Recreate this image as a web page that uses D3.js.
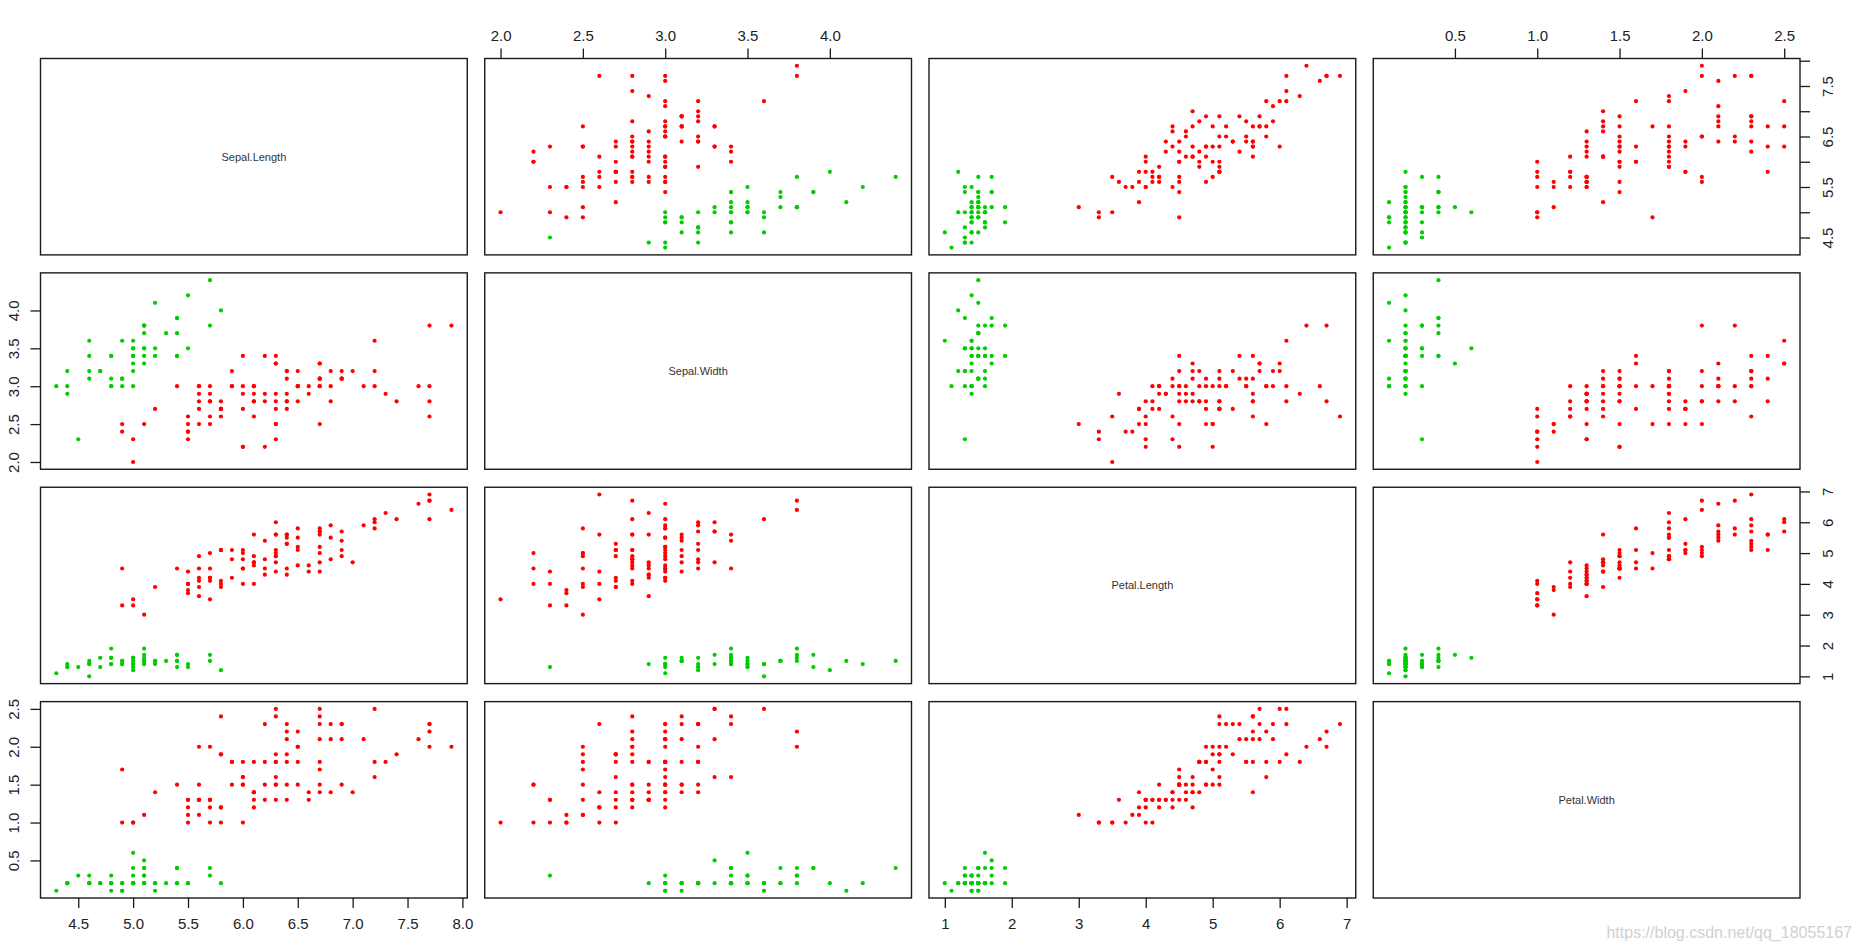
<!DOCTYPE html>
<html>
<head>
<meta charset="utf-8">
<script src="https://cdn.jsdelivr.net/npm/d3@7"></script>
<style>
  html, body { margin: 0; padding: 0; background: #ffffff; }
  svg { display: block; font-family: "Liberation Sans", Arial, sans-serif; }
</style>
</head>
<body>
<svg id="chart" width="1862" height="950"></svg>
<script>
// ---------------- data (iris) ----------------
const varNames = ["Sepal.Length", "Sepal.Width", "Petal.Length", "Petal.Width"];

const sepalLength = [
5.1,4.9,4.7,4.6,5.0,5.4,4.6,5.0,4.4,4.9,5.4,4.8,4.8,4.3,5.8,5.7,5.4,5.1,5.7,5.1,5.4,5.1,4.6,5.1,4.8,5.0,5.0,5.2,5.2,4.7,4.8,5.4,5.2,5.5,4.9,5.0,5.5,4.9,4.4,5.1,5.0,4.5,4.4,5.0,5.1,4.8,5.1,4.6,5.3,5.0,
7.0,6.4,6.9,5.5,6.5,5.7,6.3,4.9,6.6,5.2,5.0,5.9,6.0,6.1,5.6,6.7,5.6,5.8,6.2,5.6,5.9,6.1,6.3,6.1,6.4,6.6,6.8,6.7,6.0,5.7,5.5,5.5,5.8,6.0,5.4,6.0,6.7,6.3,5.6,5.5,5.5,6.1,5.8,5.0,5.6,5.7,5.7,6.2,5.1,5.7,
6.3,5.8,7.1,6.3,6.5,7.6,4.9,7.3,6.7,7.2,6.5,6.4,6.8,5.7,5.8,6.4,6.5,7.7,7.7,6.0,6.9,5.6,7.7,6.3,6.7,7.2,6.2,6.1,6.4,7.2,7.4,7.9,6.4,6.3,6.1,7.7,6.3,6.4,6.0,6.9,6.7,6.9,5.8,6.8,6.7,6.7,6.3,6.5,6.2,5.9];

const sepalWidth = [
3.5,3.0,3.2,3.1,3.6,3.9,3.4,3.4,2.9,3.1,3.7,3.4,3.0,3.0,4.0,4.4,3.9,3.5,3.8,3.8,3.4,3.7,3.6,3.3,3.4,3.0,3.4,3.5,3.4,3.2,3.1,3.4,4.1,4.2,3.1,3.2,3.5,3.6,3.0,3.4,3.5,2.3,3.2,3.5,3.8,3.0,3.8,3.2,3.7,3.3,
3.2,3.2,3.1,2.3,2.8,2.8,3.3,2.4,2.9,2.7,2.0,3.0,2.2,2.9,2.9,3.1,3.0,2.7,2.2,2.5,3.2,2.8,2.5,2.8,2.9,3.0,2.8,3.0,2.9,2.6,2.4,2.4,2.7,2.7,3.0,3.4,3.1,2.3,3.0,2.5,2.6,3.0,2.6,2.3,2.7,3.0,2.9,2.9,2.5,2.8,
3.3,2.7,3.0,2.9,3.0,3.0,2.5,2.9,2.5,3.6,3.2,2.7,3.0,2.5,2.8,3.2,3.0,3.8,2.6,2.2,3.2,2.8,2.8,2.7,3.3,3.2,2.8,3.0,2.8,3.0,2.8,3.8,2.8,2.8,2.6,3.0,3.4,3.1,3.0,3.1,3.1,3.1,2.7,3.2,3.3,3.0,2.5,3.0,3.4,3.0];

const petalLength = [
1.4,1.4,1.3,1.5,1.4,1.7,1.4,1.5,1.4,1.5,1.5,1.6,1.4,1.1,1.2,1.5,1.3,1.4,1.7,1.5,1.7,1.5,1.0,1.7,1.9,1.6,1.6,1.5,1.4,1.6,1.6,1.5,1.5,1.4,1.5,1.2,1.3,1.4,1.3,1.5,1.3,1.3,1.3,1.6,1.9,1.4,1.6,1.4,1.5,1.4,
4.7,4.5,4.9,4.0,4.6,4.5,4.7,3.3,4.6,3.9,3.5,4.2,4.0,4.7,3.6,4.4,4.5,4.1,4.5,3.9,4.8,4.0,4.9,4.7,4.3,4.4,4.8,5.0,4.5,3.5,3.8,3.7,3.9,5.1,4.5,4.5,4.7,4.4,4.1,4.0,4.4,4.6,4.0,3.3,4.2,4.2,4.2,4.3,3.0,4.1,
6.0,5.1,5.9,5.6,5.8,6.6,4.5,6.3,5.8,6.1,5.1,5.3,5.5,5.0,5.1,5.3,5.5,6.7,6.9,5.0,5.7,4.9,6.7,4.9,5.7,6.0,4.8,4.9,5.6,5.8,6.1,6.4,5.6,5.1,5.6,6.1,5.6,5.5,4.8,5.4,5.6,5.1,5.1,5.9,5.7,5.2,5.0,5.2,5.4,5.1];

const petalWidth = [
0.2,0.2,0.2,0.2,0.2,0.4,0.3,0.2,0.2,0.1,0.2,0.2,0.1,0.1,0.2,0.4,0.4,0.3,0.3,0.3,0.2,0.4,0.2,0.5,0.2,0.2,0.4,0.2,0.2,0.2,0.2,0.4,0.1,0.2,0.2,0.2,0.2,0.1,0.2,0.2,0.3,0.3,0.2,0.6,0.4,0.3,0.2,0.2,0.2,0.2,
1.4,1.5,1.5,1.3,1.5,1.3,1.6,1.0,1.3,1.4,1.0,1.5,1.0,1.4,1.3,1.4,1.5,1.0,1.5,1.1,1.8,1.3,1.5,1.2,1.3,1.4,1.4,1.7,1.5,1.0,1.1,1.0,1.2,1.6,1.5,1.6,1.5,1.3,1.3,1.3,1.2,1.4,1.2,1.0,1.3,1.2,1.3,1.3,1.1,1.3,
2.5,1.9,2.1,1.8,2.2,2.1,1.7,1.8,1.8,2.5,2.0,1.9,2.1,2.0,2.4,2.3,1.8,2.2,2.3,1.5,2.3,2.0,2.0,1.8,2.1,1.8,1.8,1.8,2.1,1.6,1.9,2.0,2.2,1.5,1.4,2.3,2.4,1.8,1.8,2.1,2.4,2.3,1.9,2.3,2.5,2.3,1.9,2.0,2.3,1.8];

// species group: setosa drawn green, the other two red
const speciesNames = ["setosa", "versicolor", "virginica"];
const speciesCounts = [50, 50, 50];
const speciesColors = ["#00cd00", "#ff0000", "#ff0000"];

// tick values and tick labels per variable (outer axes)
const tickValues = [
  [4.5, 5.0, 5.5, 6.0, 6.5, 7.0, 7.5, 8.0],
  [2.0, 2.5, 3.0, 3.5, 4.0],
  [1, 2, 3, 4, 5, 6, 7],
  [0.5, 1.0, 1.5, 2.0, 2.5]
];
const tickLabelsHoriz = [
  ["4.5","5.0","5.5","6.0","6.5","7.0","7.5","8.0"],
  ["2.0","2.5","3.0","3.5","4.0"],
  ["1","2","3","4","5","6","7"],
  ["0.5","1.0","1.5","2.0","2.5"]
];
const tickLabelsVert = [
  ["4.5","","5.5","","6.5","","7.5",""],
  ["2.0","2.5","3.0","3.5","4.0"],
  ["1","2","3","4","5","6","7"],
  ["0.5","1.0","1.5","2.0","2.5"]
];
const watermark = "https://blog.csdn.net/qq_18055167";

// ---------------- layout ----------------
const svg = d3.select("#chart");
const vars = [sepalLength, sepalWidth, petalLength, petalWidth];
const species = [];
speciesCounts.forEach((c, k) => { for (let i = 0; i < c; i++) species.push(k); });

const colBand = d3.scaleBand().domain([0,1,2,3]).range([40.5, 1800]).paddingInner(0.0394).paddingOuter(0);
const rowBand = d3.scaleBand().domain([0,1,2,3]).range([58.5, 898]).paddingInner(0.0839).paddingOuter(0);

function extDomain(arr) {
  const mn = d3.min(arr), mx = d3.max(arr), r = mx - mn;
  return [mn - 0.04 * r, mx + 0.04 * r];
}
const domains = vars.map(extDomain);

const xScales = vars.map((v, j) => d3.scaleLinear().domain(domains[j])
  .range([colBand(j), colBand(j) + colBand.bandwidth()]));
const yScales = vars.map((v, i) => d3.scaleLinear().domain(domains[i])
  .range([rowBand(i) + rowBand.bandwidth(), rowBand(i)]));

const n = sepalLength.length;
const idx = d3.range(n);

for (let i = 0; i < 4; i++) {
  for (let j = 0; j < 4; j++) {
    const g = svg.append("g");
    const x0 = colBand(j), y0 = rowBand(i);
    const w = colBand.bandwidth(), h = rowBand.bandwidth();
    if (i === j) {
      g.append("text")
        .attr("x", x0 + w / 2).attr("y", y0 + h / 2)
        .attr("text-anchor", "middle").attr("dominant-baseline", "central")
        .attr("font-size", 11).attr("fill", "#333")
        .text(varNames[i]);
    } else {
      g.selectAll("circle").data(idx).join("circle")
        .attr("cx", k => xScales[j](vars[j][k]))
        .attr("cy", k => yScales[i](vars[i][k]))
        .attr("r", 2.1)
        .attr("fill", k => speciesColors[species[k]]);
    }
    g.append("rect").attr("x", x0).attr("y", y0).attr("width", w).attr("height", h)
      .attr("fill", "none").attr("stroke", "#1a1a1a").attr("stroke-width", 1.4);
  }
}

// ---------------- axes ----------------
function styleAxis(g) {
  g.select(".domain").remove();
  g.selectAll(".tick line").attr("stroke", "#1a1a1a").attr("stroke-width", 1.3);
  g.selectAll(".tick text").attr("font-size", 15).attr("fill", "#222")
    .attr("font-family", "'Liberation Sans', Arial, sans-serif");
}
function fmt(vals, labels) { return d => labels[vals.indexOf(d)]; }

// top: columns 1 and 3 (0-based), bottom: columns 0 and 2
[1, 3].forEach(j => {
  svg.append("g").attr("transform", `translate(0,${rowBand(0)})`)
    .call(d3.axisTop(xScales[j]).tickValues(tickValues[j]).tickSize(10).tickPadding(8)
      .tickFormat(fmt(tickValues[j], tickLabelsHoriz[j])))
    .call(styleAxis);
});
[0, 2].forEach(j => {
  svg.append("g").attr("transform", `translate(0,${rowBand(3) + rowBand.bandwidth()})`)
    .call(d3.axisBottom(xScales[j]).tickValues(tickValues[j]).tickSize(10).tickPadding(10)
      .tickFormat(fmt(tickValues[j], tickLabelsHoriz[j])))
    .call(styleAxis);
});
// left: rows 1 and 3, right: rows 0 and 2
[1, 3].forEach(i => {
  const g = svg.append("g").attr("transform", `translate(${colBand(0)},0)`)
    .call(d3.axisLeft(yScales[i]).tickValues(tickValues[i]).tickSize(10)
      .tickFormat(fmt(tickValues[i], tickLabelsVert[i])))
    .call(styleAxis);
  g.selectAll(".tick text").attr("x", null).attr("dy", null)
    .attr("transform", "translate(-27,0) rotate(-90)")
    .attr("text-anchor", "middle").attr("dominant-baseline", "central");
});
[0, 2].forEach(i => {
  const g = svg.append("g").attr("transform", `translate(${colBand(3) + colBand.bandwidth()},0)`)
    .call(d3.axisRight(yScales[i]).tickValues(tickValues[i]).tickSize(10)
      .tickFormat(fmt(tickValues[i], tickLabelsVert[i])))
    .call(styleAxis);
  g.selectAll(".tick text").attr("x", null).attr("dy", null)
    .attr("transform", "translate(27,0) rotate(-90)")
    .attr("text-anchor", "middle").attr("dominant-baseline", "central");
});

// watermark
svg.append("text").attr("x", 1852).attr("y", 938).attr("text-anchor", "end")
  .attr("font-size", 16).attr("fill", "#d0d0d0").text(watermark);
</script>
</body>
</html>
